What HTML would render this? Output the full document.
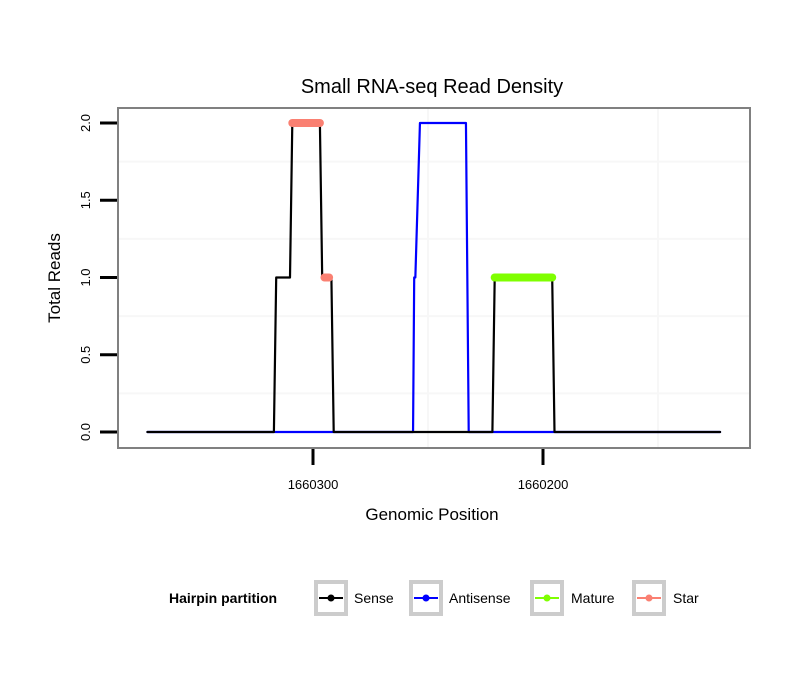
<!DOCTYPE html>
<html><head><meta charset="utf-8"><style>
body{margin:0;background:#fff;font-family:"Liberation Sans",sans-serif}
</style></head><body>
<svg id="chart" width="810" height="690" xmlns="http://www.w3.org/2000/svg" font-family="Liberation Sans, sans-serif">
<rect width="810" height="690" fill="#fff"/>
<text x="432" y="93" font-size="20" text-anchor="middle">Small RNA-seq Read Density</text>
<g id="grid"></g>
<g id="series"></g>
<rect x="118" y="108" width="632" height="340" fill="none" stroke="#808080" stroke-width="2"/>
<g id="axes"></g>
<text x="432" y="520" font-size="17" text-anchor="middle">Genomic Position</text>
<text transform="translate(60,278) rotate(-90)" font-size="17" text-anchor="middle">Total Reads</text>
<g id="legend">
<text x="169" y="603" font-size="14" font-weight="bold">Hairpin partition</text>
</g>
</svg>
<script>
const yTicks=[0,0.5,1,1.5,2];
const yTickLabels=["0.0","0.5","1.0","1.5","2.0"];
const xTicks=[1660300,1660200];
const xTickLabels=["1660300","1660200"];
const sensePos=[1660372,1660317,1660316,1660310,1660309,1660297,1660296,1660292,1660291,1660222,1660221,1660196,1660195,1660123];
const senseReads=[0,0,1,1,2,2,1,1,0,0,1,1,0,0];
const antiPos=[1660372,1660256.5,1660256,1660255.5,1660253.5,1660233.5,1660232.3,1660123];
const antiReads=[0,0,1,1,2,2,0,0];
const starPos=[1660309,1660297];
const starReads=[2,2];
const star2Pos=[1660295,1660293];
const star2Reads=[1,1];
const maturePos=[1660221,1660196];
const matureReads=[1,1];
const legendLabels=["Sense","Antisense","Mature","Star"];
const legendColors=["#000000","#0000ff","#7fff00","#fa8072"];

const NS="http://www.w3.org/2000/svg";
function xs(p){return 313+(1660300-p)*2.3;}
function ys(v){return 432-v*154.5;}
function mk(tag,attrs,parent){const e=document.createElementNS(NS,tag);for(const k in attrs)e.setAttribute(k,attrs[k]);parent.appendChild(e);return e;}
const grid=document.getElementById('grid'),ser=document.getElementById('series'),axes=document.getElementById('axes'),leg=document.getElementById('legend');
[0.25,0.75,1.25,1.75].forEach(v=>{const l=mk('line',{x1:118,x2:750,y1:ys(v),y2:ys(v),stroke:'#f7f7f7','stroke-width':2},grid);

});
[1660250,1660150].forEach(p=>{const l=mk('line',{x1:xs(p),x2:xs(p),y1:108,y2:448,stroke:'#f7f7f7','stroke-width':2},grid);

});
function line(pos,vals,color,w,name){
  const pts=pos.map((p,i)=>xs(p)+','+ys(vals[i])).join(' ');
  const e=mk('polyline',{points:pts,fill:'none',stroke:color,'stroke-width':w,'stroke-linecap':'round','stroke-linejoin':'round'},ser);
  
  
}
line(antiPos,antiReads,'#0000ff',2.2,'antisense-line');
line(sensePos,senseReads,'#000000',2.2,'sense-line');
line(maturePos,matureReads,'#7fff00',8,'mature-segment');
line(starPos,starReads,'#fa8072',8,'star-segment');
line(star2Pos,star2Reads,'#fa8072',8,'star-segment-2');
yTicks.forEach((v,i)=>{
  const t=mk('line',{x1:100,x2:117,y1:ys(v),y2:ys(v),stroke:'#000','stroke-width':3},axes);
  
  
  const tx=mk('text',{transform:`translate(90,${ys(v)}) rotate(-90)`,'font-size':13,'text-anchor':'middle'},axes);
  tx.textContent=yTickLabels[i];
  
  
});
xTicks.forEach((p,i)=>{
  const t=mk('line',{x1:xs(p),x2:xs(p),y1:449,y2:465,stroke:'#000','stroke-width':3},axes);
  
  
  const tx=mk('text',{x:xs(p),y:489,'font-size':13,'text-anchor':'middle'},axes);
  tx.textContent=xTickLabels[i];
  
  
});
const boxX=[314,409,530,632],textX=[354,449,571,673];
legendLabels.forEach((lab,i)=>{
  const g=mk('g',{},leg);
  
  
  mk('rect',{x:boxX[i]+2,y:582,width:30,height:32,fill:'#fff',stroke:'#cccccc','stroke-width':4},g);
  mk('line',{x1:boxX[i]+5,x2:boxX[i]+29,y1:598,y2:598,stroke:legendColors[i],'stroke-width':2},g);
  mk('circle',{cx:boxX[i]+17,cy:598,r:3.5,fill:legendColors[i]},g);
  const t=mk('text',{x:textX[i],y:603,'font-size':14},g);
  t.textContent=lab;
});
</script>
</body></html>
